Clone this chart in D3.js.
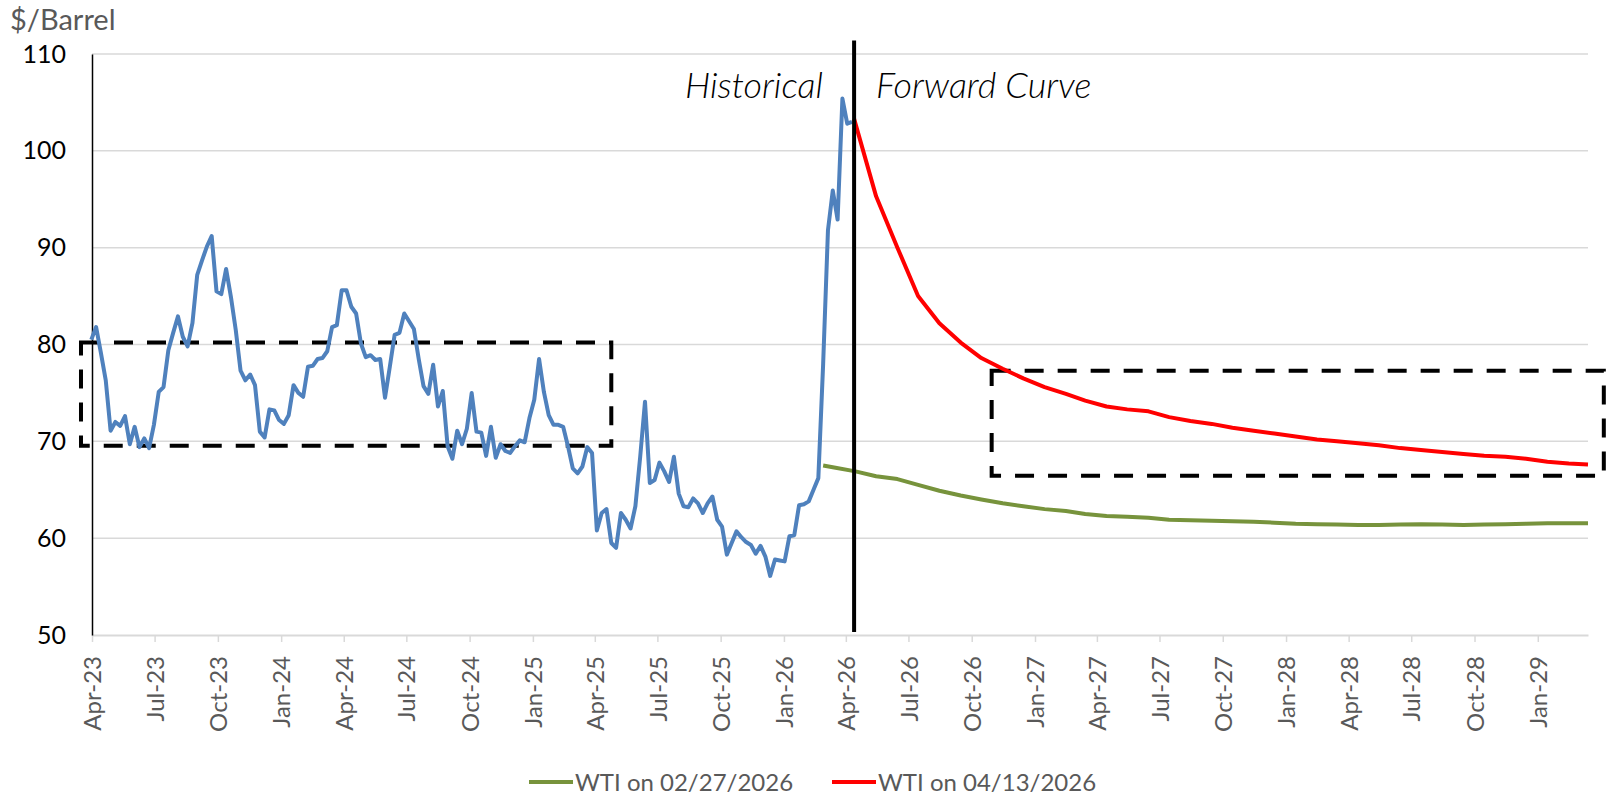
<!DOCTYPE html>
<html>
<head>
<meta charset="utf-8">
<script src="https://cdn.jsdelivr.net/npm/d3@7"></script>
<style>
  body { margin: 0; background: #fff; }
  text { font-family: Lato, "Open Sans", sans-serif; }
</style>
</head>
<body>
<div id="chart"></div>
<script>
const WIDTH = 1607, HEIGHT = 796;
const margin = {top: 54, right: 19, bottom: 161, left: 92};
const width = WIDTH - margin.left - margin.right;
const height = HEIGHT - margin.top - margin.bottom;

const parse = d3.timeParse("%Y-%m-%d");

// weekly historical WTI, first week ending 2023-03-31
const histStart = "2023-03-31";
const histValues = [
  80.5, 81.8, 79.1, 76.3, 71.1, 72.0, 71.6, 72.6, 69.7, 71.5, 69.4, 70.3, 69.3, 71.7, 75.1,
  75.6, 79.4, 81.2, 82.9, 80.8, 79.8, 82.2, 87.2, 88.7, 90.1, 91.2, 85.5, 85.2, 87.8, 84.9,
  81.5, 77.3, 76.3, 76.9, 75.8, 71.0, 70.4, 73.3, 73.2, 72.2, 71.8, 72.7, 75.8, 75.0, 74.6,
  77.7, 77.8, 78.5, 78.6, 79.3, 81.8, 82.0, 85.6, 85.6, 83.9, 83.2, 80.1, 78.7, 78.9, 78.4,
  78.5, 74.5, 77.7, 81.0, 81.2, 83.2, 82.4, 81.6, 78.5, 75.7, 74.9, 77.9, 73.6, 75.2, 69.5,
  68.2, 71.1, 69.7, 71.3, 75.0, 71.0, 70.9, 68.5, 71.5, 68.3, 69.7, 69.0, 68.8, 69.5,
  70.1, 69.9, 72.4, 74.3, 78.5, 75.1, 72.7, 71.7, 71.7, 71.5, 69.5, 67.2, 66.7, 67.4, 69.4,
  68.8, 60.8, 62.6, 63.0, 59.5, 59.0, 62.6, 61.9, 61.0, 63.3, 68.4, 74.1, 65.7, 66.0, 67.8,
  66.9, 65.8, 68.4, 64.6, 63.3, 63.2, 64.1, 63.6, 62.6, 63.6, 64.3, 61.9, 61.2, 58.3, 59.5,
  60.7, 60.1, 59.6, 59.3, 58.4, 59.2, 58.1, 56.1, 57.8, 57.7, 57.6, 60.2, 60.3, 63.4, 63.5,
  63.8, 65.0, 66.2, 78.0, 91.8, 95.9, 92.9, 105.4, 102.8, 103.0
];

// forward curve as of 02/27/2026 (spot, then monthly contracts Mar-26 .. Mar-29)
const greenFirst = "2026-02-27";
const greenMonthStart = "2026-03-15";
const greenValues = [
  67.5, 67.3, 66.9, 66.4, 66.1, 65.5, 64.9, 64.4, 64.0, 63.6, 63.3,
  63.0, 62.8, 62.5, 62.3, 62.2, 62.1, 61.9, 61.85, 61.8, 61.75, 61.7, 61.6,
  61.5, 61.45, 61.4, 61.35, 61.35, 61.4, 61.45, 61.4, 61.35, 61.4, 61.45, 61.5,
  61.55, 61.55, 61.55
];

// forward curve as of 04/13/2026 (spot, then monthly contracts May-26 .. Mar-29)
const redFirst = "2026-04-13";
const redMonthStart = "2026-05-15";
const redValues = [
  103.3, 95.3, 90.0, 85.0, 82.2, 80.2, 78.6, 77.5, 76.5,
  75.6, 74.9, 74.2, 73.6, 73.3, 73.1, 72.5, 72.1, 71.8, 71.4, 71.1, 70.8,
  70.5, 70.2, 70.0, 69.8, 69.6, 69.3, 69.1, 68.9, 68.7, 68.5, 68.4, 68.2,
  67.9, 67.7, 67.6
];

const yTicks = [50, 60, 70, 80, 90, 100, 110];
const xDomain = ["2023-04-01", "2029-03-15"];
const splitDate = "2026-04-13";
const splitTop = 111.4;
const boxes = [
  {from: "2023-03-16", to: "2025-04-25", low: 69.55, high: 80.2},
  {from: "2026-10-30", to: "2029-04-07", low: 66.45, high: 77.3}
];
const legendItems = [
  {label: "WTI on 02/27/2026", color: "#77933c"},
  {label: "WTI on 04/13/2026", color: "#ff0000"}
];

const hist = histValues.map((v, i) => ({date: d3.timeDay.offset(parse(histStart), 7 * i), value: v}));
const green = greenValues.map((v, i) => ({
  date: i === 0 ? parse(greenFirst) : d3.timeMonth.offset(parse(greenMonthStart), i - 1), value: v}));
const red = redValues.map((v, i) => ({
  date: i === 0 ? parse(redFirst) : d3.timeMonth.offset(parse(redMonthStart), i - 1), value: v}));

const svg = d3.select("#chart").append("svg")
    .attr("width", WIDTH)
    .attr("height", HEIGHT);

const g = svg.append("g")
    .attr("transform", `translate(${margin.left}, ${margin.top})`);

const x = d3.scaleTime()
    .domain(xDomain.map(parse))
    .range([0, width]);

const y = d3.scaleLinear()
    .domain([50, 110])
    .range([height, 0]);

// gridlines
g.append("g").selectAll("line")
    .data(yTicks.slice(1))
    .enter().append("line")
    .attr("x1", 0).attr("x2", width)
    .attr("y1", d => y(d)).attr("y2", d => y(d))
    .attr("stroke", "#d9d9d9")
    .attr("stroke-width", 1.5);

// x axis
let xAxis = g.append("g")
    .attr("transform", `translate(0, ${height})`)
    .call(d3.axisBottom(x)
        .ticks(d3.timeMonth.every(3))
        .tickFormat(d3.timeFormat("%b-%y"))
        .tickSize(7)
        .tickSizeOuter(0));
xAxis.select(".domain").attr("stroke", "#d9d9d9").attr("stroke-width", 2);
xAxis.selectAll(".tick line").attr("stroke", "#d9d9d9").attr("stroke-width", 1.5);
xAxis.selectAll(".tick text")
    .attr("transform", "rotate(-90)")
    .attr("x", -21)
    .attr("y", 0)
    .attr("dy", "0.36em")
    .style("text-anchor", "end")
    .style("font-size", "24px")
    .style("fill", "#595959");

// y axis
let yAxis = g.append("g")
    .call(d3.axisLeft(y).tickValues(yTicks).tickSize(0).tickPadding(26));
yAxis.select(".domain").attr("stroke", "#000").attr("stroke-width", 1.5);
yAxis.selectAll(".tick text")
    .style("font-size", "25px")
    .style("fill", "#000");

svg.append("text")
    .attr("x", 10)
    .attr("y", 30)
    .style("font-size", "29px")
    .style("fill", "#595959")
    .text("$/Barrel");

// dashed boxes
g.append("g").selectAll("rect")
    .data(boxes)
    .enter().append("rect")
    .attr("x", d => x(parse(d.from)))
    .attr("y", d => y(d.high))
    .attr("width", d => x(parse(d.to)) - x(parse(d.from)))
    .attr("height", d => y(d.low) - y(d.high))
    .attr("fill", "none")
    .attr("stroke", "#000")
    .attr("stroke-width", 4)
    .attr("stroke-dasharray", "19,14");

const line = d3.line()
    .x(d => x(d.date))
    .y(d => y(d.value));

g.append("path").datum(green)
    .attr("d", line)
    .attr("fill", "none")
    .attr("stroke", "#77933c")
    .attr("stroke-width", 4)
    .attr("stroke-linejoin", "round");

g.append("path").datum(hist)
    .attr("d", line)
    .attr("fill", "none")
    .attr("stroke", "#4f81bd")
    .attr("stroke-width", 4)
    .attr("stroke-linejoin", "round");

g.append("path").datum(red)
    .attr("d", line)
    .attr("fill", "none")
    .attr("stroke", "#ff0000")
    .attr("stroke-width", 4)
    .attr("stroke-linejoin", "round");

// split line
const sx = x(parse(splitDate));
g.append("line")
    .attr("x1", sx).attr("x2", sx)
    .attr("y1", y(splitTop)).attr("y2", height - 3)
    .attr("stroke", "#000")
    .attr("stroke-width", 4);

g.append("text")
    .attr("x", sx - 31)
    .attr("y", 44)
    .style("text-anchor", "end")
    .style("font-style", "italic")
    .style("font-weight", 300)
    .style("font-size", "36px")
    .text("Historical");

g.append("text")
    .attr("x", sx + 22)
    .attr("y", 44)
    .style("font-style", "italic")
    .style("font-weight", 300)
    .style("font-size", "36px")
    .text("Forward Curve");

// legend
const legendX = [529, 832];
const legend = svg.append("g").selectAll("g")
    .data(legendItems)
    .enter().append("g")
    .attr("transform", (d, i) => `translate(${legendX[i]}, 782)`);
legend.append("line")
    .attr("x1", 0).attr("x2", 44)
    .attr("stroke", d => d.color)
    .attr("stroke-width", 4);
legend.append("text")
    .attr("x", 46)
    .attr("dy", "0.36em")
    .style("font-size", "24px")
    .style("fill", "#595959")
    .text(d => d.label);
</script>
</body>
</html>
